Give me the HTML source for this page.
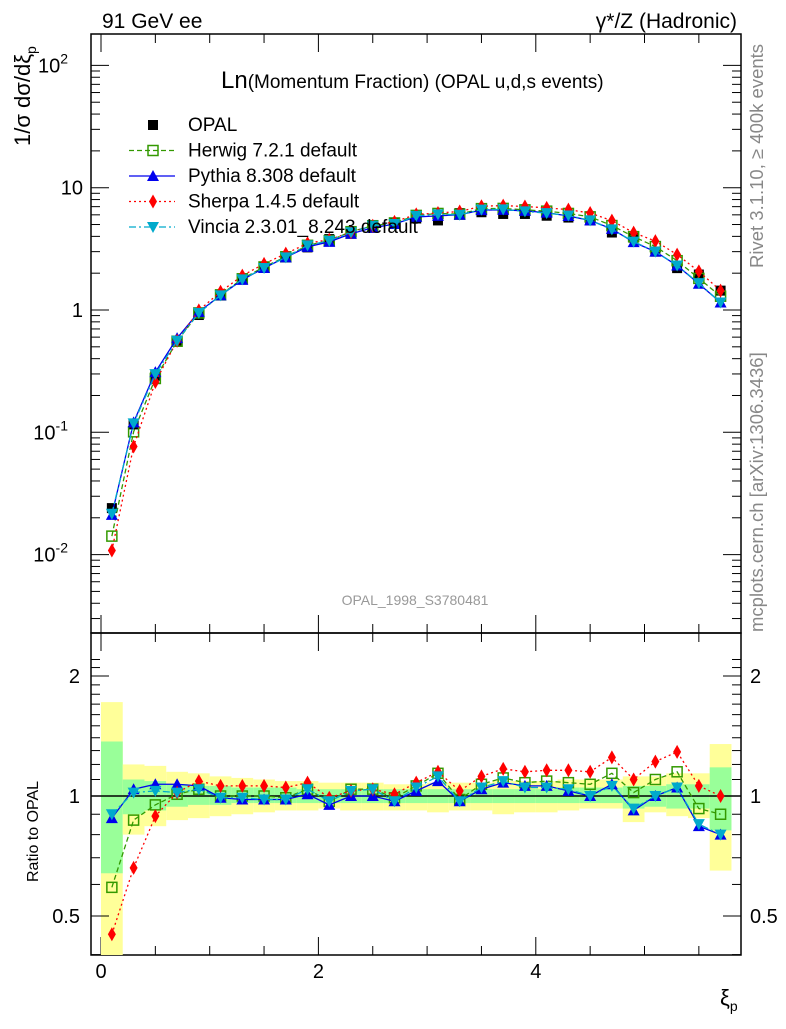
<!DOCTYPE html>
<html><head><meta charset="utf-8"><style>
body{margin:0;background:#fff;}
svg text{font-family:"Liberation Sans",sans-serif;}
</style></head><body>
<svg id="c" width="786" height="1024" xmlns="http://www.w3.org/2000/svg">
<text x="102" y="28" font-size="21">91 GeV ee</text>
<text x="737" y="28" font-size="21" text-anchor="end">γ*/Z (Hadronic)</text>
<text transform="translate(30,146) rotate(-90)" font-size="22">1/σ dσ/dξ<tspan font-size="14" dy="6">p</tspan></text>
<text x="221" y="88" font-size="24">Ln<tspan font-size="19">(Momentum Fraction) (OPAL u,d,s events)</tspan></text>
<text transform="translate(763,268) rotate(-90)" font-size="18.5" fill="#888">Rivet 3.1.10, ≥ 400k events</text>
<text transform="translate(763,632) rotate(-90)" font-size="18.5" fill="#888">mcplots.cern.ch [arXiv:1306.3436]</text>
<text x="415" y="605" font-size="14" fill="#999" text-anchor="middle">OPAL_1998_S3780481</text>
<text transform="translate(38,882) rotate(-90)" font-size="16">Ratio to OPAL</text>
<text x="720" y="1005" font-size="22">ξ<tspan font-size="14" dy="6">p</tspan></text>
<g id="main"></g><g id="ratio"></g><g id="legend"></g>
</svg>
<script>
const xs=[0.1,0.3,0.5,0.7,0.9,1.1,1.3,1.5,1.7,1.9,2.1,2.3,2.5,2.7,2.9,3.1,3.3,3.5,3.7,3.9,4.1,4.3,4.5,4.7,4.9,5.1,5.3,5.5,5.7];
const opal=[0.024,0.116,0.29,0.55,0.91,1.33,1.80,2.25,2.75,3.25,3.8,4.2,4.7,5.2,5.6,5.4,6.2,6.3,6.1,6.1,5.9,5.7,5.4,4.3,3.9,3.0,2.2,1.95,1.44];
const herwigR=[0.59,0.87,0.95,1.01,1.04,1.0,1.0,1.0,0.99,1.04,0.97,1.04,1.04,0.99,1.06,1.14,0.98,1.07,1.11,1.08,1.09,1.08,1.07,1.14,1.02,1.10,1.15,0.93,0.90];
const pythiaR=[0.88,1.04,1.07,1.07,1.06,0.99,0.98,0.98,0.98,1.01,0.95,1.0,1.0,0.97,1.03,1.09,0.97,1.04,1.08,1.06,1.06,1.03,1.0,1.07,0.92,1.0,1.05,0.84,0.80];
const sherpaR=[0.45,0.66,0.89,1.02,1.09,1.06,1.06,1.06,1.05,1.08,0.99,1.03,1.04,1.01,1.08,1.15,1.03,1.12,1.17,1.15,1.16,1.16,1.15,1.25,1.10,1.22,1.29,1.06,1.0];
const vinciaR=[0.90,1.02,1.03,1.02,1.04,0.99,0.99,0.98,0.98,1.04,0.97,1.03,1.04,0.97,1.05,1.12,0.97,1.05,1.09,1.05,1.05,1.04,1.0,1.06,0.93,1.0,1.05,0.85,0.80];
const yelUp=[1.72,1.20,1.19,1.15,1.14,1.12,1.11,1.10,1.09,1.09,1.08,1.08,1.08,1.07,1.07,1.08,1.08,1.08,1.09,1.09,1.09,1.10,1.10,1.10,1.12,1.12,1.14,1.14,1.35];
const yelDn=[0.30,0.80,0.84,0.87,0.88,0.89,0.90,0.91,0.92,0.92,0.93,0.92,0.92,0.92,0.92,0.91,0.92,0.92,0.90,0.91,0.91,0.92,0.93,0.93,0.86,0.91,0.89,0.88,0.65];
const grnUp=[1.37,1.10,1.09,1.07,1.06,1.06,1.05,1.05,1.05,1.04,1.04,1.04,1.04,1.04,1.04,1.04,1.04,1.04,1.04,1.04,1.04,1.05,1.05,1.05,1.06,1.06,1.07,1.07,1.18];
const grnDn=[0.64,0.90,0.92,0.94,0.95,0.95,0.96,0.96,0.96,0.96,0.96,0.96,0.96,0.96,0.96,0.96,0.96,0.96,0.96,0.96,0.96,0.96,0.96,0.96,0.93,0.94,0.93,0.93,0.82];
const xTicks=[0,2,4];
const L=91,R=741,T=34,MB=633,RB=955;
const X=v=>101+v*108.7;
const YM=v=>310-122.3*Math.log10(v);
const YR=v=>796-120*Math.log2(v);
const NS="http://www.w3.org/2000/svg";
function mk(p,t,a){const e=document.createElementNS(NS,t);for(const k in a)e.setAttribute(k,a[k]);p.appendChild(e);return e;}
const main=document.getElementById('main'),ratio=document.getElementById('ratio'),leg=document.getElementById('legend');
for(let i=0;i<xs.length;i++){
 const x0=Math.max(L,X(xs[i]-0.1)),x1=X(xs[i]+0.1);
 const yb=mk(ratio,'rect',{x:x0,y:YR(yelUp[i]),width:x1-x0,height:Math.min(RB,YR(yelDn[i]))-YR(yelUp[i]),fill:'#ffff99'});
 
 
 const gb=mk(ratio,'rect',{x:x0,y:YR(grnUp[i]),width:x1-x0,height:YR(grnDn[i])-YR(grnUp[i]),fill:'#99ff99'});
 
 
}
mk(ratio,'line',{x1:L,x2:R,y1:YR(1),y2:YR(1),stroke:'#000','stroke-width':1.5});
for(const [t,b] of [[T,MB],[MB,RB]]){const f=mk(main,'rect',{x:L,y:t,width:R-L,height:b-t,fill:'none',stroke:'#000','stroke-width':1.5});
 
 }
for(let v=0;v<=6;v+=0.5){const x=X(v);if(x>R)break;const maj=xTicks.includes(v);const l=maj?18:9;
 for(const [t,b] of [[T,MB],[MB,RB]]){mk(main,'line',{x1:x,x2:x,y1:b,y2:b-l,stroke:'#000'});mk(main,'line',{x1:x,x2:x,y1:t,y2:t+l,stroke:'#000'});}}
xTicks.forEach(v=>{const t=mk(main,'text',{x:X(v),y:978,'font-size':20,'text-anchor':'middle'});t.textContent=v;
 
 });
for(let d=-3;d<=2;d++)for(let m=1;m<10;m++){const v=m*Math.pow(10,d);const y=YM(v);if(y<T||y>MB)continue;const l=m==1?18:9;
 mk(main,'line',{x1:L,x2:L+l,y1:y,y2:y,stroke:'#000'});mk(main,'line',{x1:R,x2:R-l,y1:y,y2:y,stroke:'#000'});}
const yl=[[0.01,'10','-2'],[0.1,'10','-1'],[1,'1',''],[10,'10',''],[100,'10','2']];
yl.forEach(([v,b,e])=>{const t=mk(main,'text',{x:e?68:83,y:YM(v)+7,'font-size':20,'text-anchor':'end'});t.textContent=b;
 if(e){const s=mk(t,'tspan',{'font-size':14,dy:-9});s.textContent=e;}
 
 });
for(const v of [0.4,0.5,0.6,0.7,0.8,0.9,1,1.1,1.2,1.3,1.4,1.5,1.6,1.7,1.8,1.9,2,2.1,2.2]){const y=YR(v);if(y<MB||y>RB)continue;const l=[0.5,1,2].includes(v)?18:9;
 mk(ratio,'line',{x1:L,x2:L+l,y1:y,y2:y,stroke:'#000'});mk(ratio,'line',{x1:R,x2:R-l,y1:y,y2:y,stroke:'#000'});}
[[2,'2'],[1,'1'],[0.5,'0.5']].forEach(([v,s])=>{for(const [x,a] of [[80,'end'],[750,'start']]){const t=mk(ratio,'text',{x:x,y:YR(v)+7,'font-size':20,'text-anchor':a});t.textContent=s;
 
 }});
function marker(p,type,x,y,c){
 if(type=='sq')return mk(p,'rect',{x:x-5,y:y-5,width:10,height:10,fill:'#000'});
 if(type=='osq')return mk(p,'rect',{x:x-5,y:y-5,width:10,height:10,fill:'none',stroke:c,'stroke-width':1.5});
 if(type=='tri')return mk(p,'path',{d:`M${x},${y-6}L${x+6},${y+5}L${x-6},${y+5}Z`,fill:c});
 if(type=='dia')return mk(p,'path',{d:`M${x},${y-7}L${x+4},${y}L${x},${y+7}L${x-4},${y}Z`,fill:c});
 if(type=='itri')return mk(p,'path',{d:`M${x-6},${y-5}L${x+6},${y-5}L${x},${y+6}Z`,fill:c});
}
const series=[
 ['herwig',herwigR,'#339900','osq','5,3'],
 ['pythia',pythiaR,'#0000ee','tri',''],
 ['sherpa',sherpaR,'#ff0000','dia','2,3'],
 ['vincia',vinciaR,'#00aacc','itri','7,3,2,3']];
const om=opal.map((o,i)=>marker(main,'sq',X(xs[i]),YM(o)));
om.forEach(m=>{
 });
for(const [n,r,c,mt,da] of series){
 for(const [g,fy] of [[main,i=>YM(opal[i]*r[i])],[ratio,i=>YR(r[i])]]){
  const pts=xs.map((x,i)=>X(x)+','+Math.min(RB,fy(i))).join(' ');
  const pl=mk(g,'polyline',{points:pts,fill:'none',stroke:c,'stroke-width':1.3,'stroke-dasharray':da});
  
  
  xs.forEach((x,i)=>{const m=marker(g,mt,X(x),fy(i),c);
   
   });
 }
}
const le=[['OPAL','#000','sq',''],['Herwig 7.2.1 default','#339900','osq','5,3'],['Pythia 8.308 default','#0000ee','tri',''],['Sherpa 1.4.5 default','#ff0000','dia','2,3'],['Vincia 2.3.01_8.243 default','#00aacc','itri','7,3,2,3']];
le.forEach(([t,c,m,da],i)=>{const y=125+i*25.5;
 if(i>0){mk(leg,'line',{x1:129,x2:175,y1:y,y2:y,stroke:c,'stroke-width':1.3,'stroke-dasharray':da});}
 marker(leg,m,153,y,c);
 const tx=mk(leg,'text',{x:188,y:y+6,'font-size':19});tx.textContent=t;
 
 });
</script>
</body></html>
